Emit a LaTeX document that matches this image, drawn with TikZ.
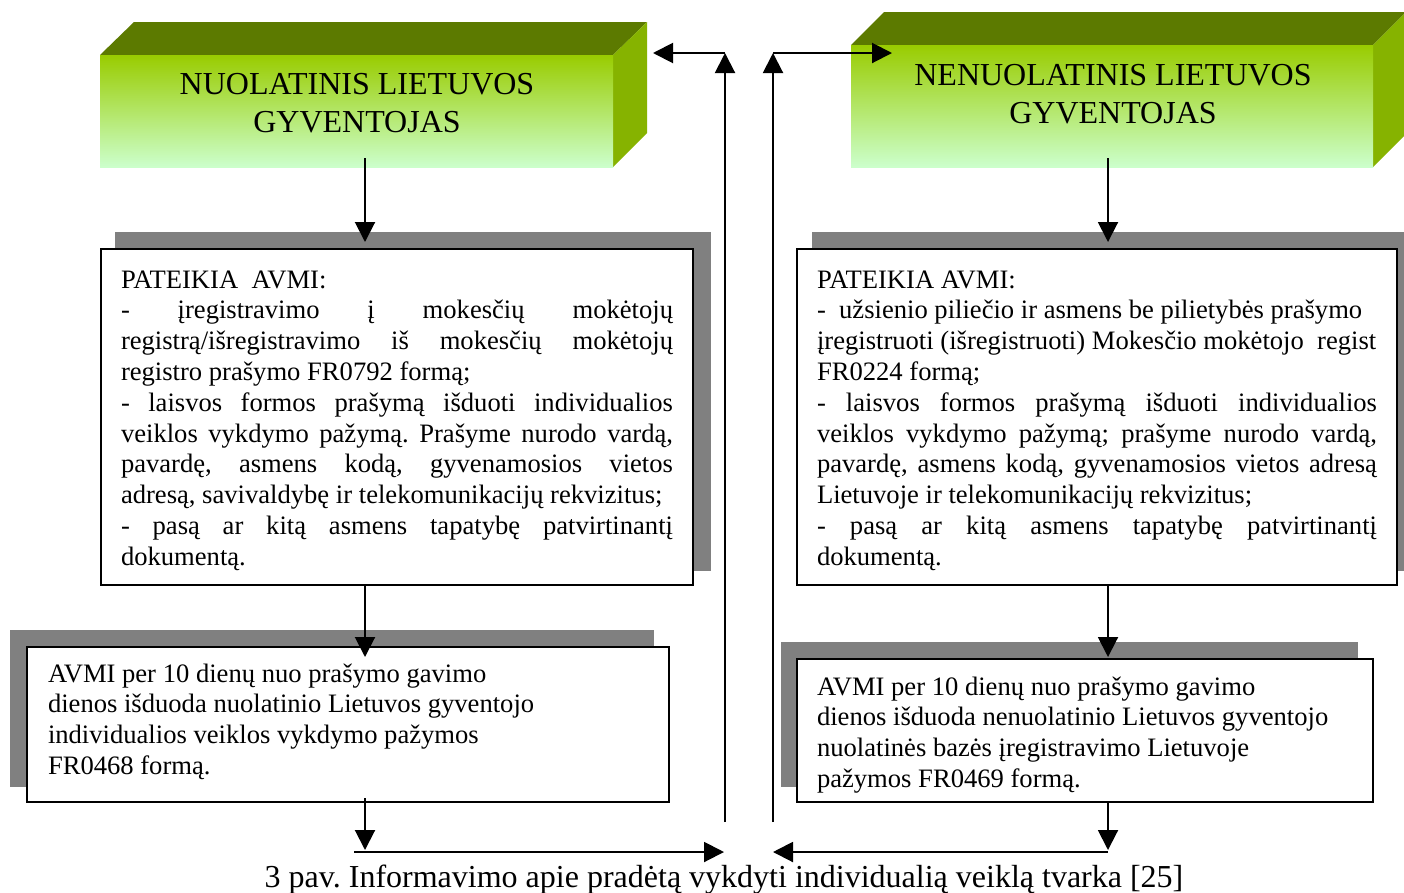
\documentclass[tikz,border=0pt]{standalone}
\usepackage{fontspec}
\setmainfont{Liberation Serif}
\usetikzlibrary{arrows.meta}
\definecolor{shadowgray}{HTML}{808080}
\definecolor{topface}{HTML}{5C7A00}
\definecolor{sideface}{HTML}{86B300}
\definecolor{fronttop}{HTML}{99CC00}
\definecolor{frontbot}{HTML}{CCFFCC}
\newlength{\linew}
\newcommand{\Jl}[1]{\hbox to \linew{#1}}
\newcommand{\Ll}[1]{\hbox to \linew{#1\hfil}}
\hbadness=10000 \hfuzz=100pt
\frenchspacing
\begin{document}
\begin{tikzpicture}[x=1pt,y=-1pt,
  shadowbox/.style={fill=shadowgray,draw=none},
  whitebox/.style={draw=black,line width=2pt,fill=white},
  topf/.style={fill=topface},
  sidef/.style={fill=sideface},
  frontf/.style={top color=fronttop,bottom color=frontbot},
  conn/.style={line width=2pt,-{Triangle[length=20pt,width=20pt]}},
  txt/.style={inner sep=0pt,outer sep=0pt}]
\clip (0,0) rectangle (1404,892);
\fill[white] (0,0) rectangle (1404,892);
% ---- 3D box left
\fill[topf] (100,55) -- (134,22) -- (647,22) -- (613,55) -- cycle;
\fill[sidef] (613,55) -- (647,22) -- (647,133) -- (613,167) -- cycle;
\shade[frontf] (100,55) rectangle (613,167);
\node[txt,anchor=base] (l1t) at (357,94) {\vtop{\fontsize{32pt}{38pt}\selectfont
  \hbox to 500pt{\hfil NUOLATINIS LIETUVOS\hfil}
  \hbox to 500pt{\hfil GYVENTOJAS\hfil}}};
% ---- 3D box right
\fill[topf] (851,45) -- (884,12) -- (1406,12) -- (1373,45) -- cycle;
\fill[sidef] (1373,45) -- (1406,12) -- (1406,134) -- (1373,167) -- cycle;
\shade[frontf] (851,45) rectangle (1373,167);
\node[txt,anchor=base] (r1t) at (1113,85) {\vtop{\fontsize{32pt}{38pt}\selectfont
  \hbox to 500pt{\hfil NENUOLATINIS LIETUVOS\hfil}
  \hbox to 500pt{\hfil GYVENTOJAS\hfil}}};
% ---- shadows
\fill[shadowbox] (115,232) rectangle (711,571);
\fill[shadowbox] (812,232) rectangle (1420,571);
\fill[shadowbox] (10,630) rectangle (654,787);
\fill[shadowbox] (781,642) rectangle (1358,787);
% ---- white boxes
\draw[whitebox] (101,249) rectangle (693,585);
\draw[whitebox] (797,249) rectangle (1397,585);
\draw[whitebox] (27,647) rectangle (669,802);
\draw[whitebox] (797,659) rectangle (1373,802);
% ---- texts
\node[txt,anchor=base west] (l2t) at (121,288) {\vtop{\fontsize{26.6pt}{30.8pt}\selectfont\setlength{\linew}{552pt}%
  \Ll{PATEIKIA\ \ AVMI:}
  \Jl{- įregistravimo į mokesčių mokėtojų}
  \Jl{registrą/išregistravimo iš mokesčių mokėtojų}
  \Ll{registro prašymo FR0792 formą;}
  \Jl{- laisvos formos prašymą išduoti individualios}
  \Jl{veiklos vykdymo pažymą. Prašyme nurodo vardą,}
  \Jl{pavardę, asmens kodą, gyvenamosios vietos}
  \Ll{adresą, savivaldybę ir telekomunikacijų rekvizitus;}
  \Jl{- pasą ar kitą asmens tapatybę patvirtinantį}
  \Ll{dokumentą.}}};
\node[txt,anchor=base west] (r2t) at (817,288) {\vtop{\fontsize{26.6pt}{30.8pt}\selectfont\setlength{\linew}{560pt}%
  \Ll{PATEIKIA AVMI:}
  \Ll{-\ \ užsienio piliečio ir asmens be pilietybės prašymo}
  \Ll{įregistruoti (išregistruoti) Mokesčio mokėtojo\ \ regist}
  \Ll{FR0224 formą;}
  \Jl{- laisvos formos prašymą išduoti individualios}
  \Jl{veiklos vykdymo pažymą; prašyme nurodo vardą,}
  \Jl{pavardę, asmens kodą, gyvenamosios vietos adresą}
  \Ll{Lietuvoje ir telekomunikacijų rekvizitus;}
  \Jl{- pasą ar kitą asmens tapatybę patvirtinantį}
  \Ll{dokumentą.}}};
\node[txt,anchor=base west] (l3t) at (48,682) {\vtop{\fontsize{26.6pt}{30.8pt}\selectfont\setlength{\linew}{600pt}%
  \Ll{AVMI per 10 dienų nuo prašymo gavimo}
  \Ll{dienos išduoda nuolatinio Lietuvos gyventojo}
  \Ll{individualios veiklos vykdymo pažymos}
  \Ll{FR0468 formą.}}};
\node[txt,anchor=base west] (r3t) at (817,695) {\vtop{\fontsize{26.6pt}{30.8pt}\selectfont\setlength{\linew}{540pt}%
  \Ll{AVMI per 10 dienų nuo prašymo gavimo}
  \Ll{dienos išduoda nenuolatinio Lietuvos gyventojo}
  \Ll{nuolatinės bazės įregistravimo Lietuvoje}
  \Ll{pažymos FR0469 formą.}}};
\node[txt,anchor=base] (cap) at (724,887) {\fontsize{32pt}{38pt}\selectfont 3 pav. Informavimo apie pradėtą vykdyti individualią veiklą tvarka [25]};
% ---- connector coordinates
\coordinate (a1s) at (365,158); \coordinate (a1e) at (365,242);
\coordinate (a2s) at (365,585); \coordinate (a2e) at (365,657);
\coordinate (a3s) at (365,798); \coordinate (a3e) at (365,850);
\coordinate (h1s) at (354,852); \coordinate (h1e) at (724,852);
\coordinate (v1s) at (725,822); \coordinate (v1e) at (725,53);
\coordinate (l1in) at (653,53);
\coordinate (v2s) at (773,822); \coordinate (v2e) at (773,53);
\coordinate (r1in) at (892,53);
\coordinate (b1s) at (1108,158); \coordinate (b1e) at (1108,242);
\coordinate (b2s) at (1108,585); \coordinate (b2e) at (1108,657);
\coordinate (b3s) at (1108,802); \coordinate (b3e) at (1108,850);
\coordinate (h2s) at (1108,852); \coordinate (h2e) at (773,852);
% ---- connectors
\draw[conn] (a1s) -- (a1e);
\draw[conn] (a2s) -- (a2e);
\draw[conn] (a3s) -- (a3e);
\draw[conn] (h1s) -- (h1e);
\draw[conn] (v1s) -- (v1e);
\draw[conn] (v1e) -- (l1in);
\draw[conn] (v2s) -- (v2e);
\draw[conn] (v2e) -- (r1in);
\draw[conn] (b1s) -- (b1e);
\draw[conn] (b2s) -- (b2e);
\draw[conn] (b3s) -- (b3e);
\draw[conn] (h2s) -- (h2e);
\end{tikzpicture}
\end{document}
